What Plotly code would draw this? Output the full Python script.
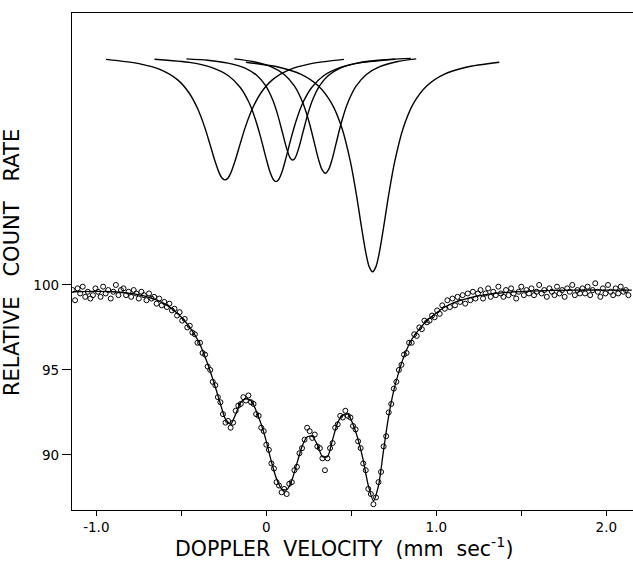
import plotly.graph_objects as go

# ---------------- data ----------------
# Measured spectrum: velocity grid (mm/s) and relative count rate
vel_start = -1.14
vel_step = 0.015
counts = [
    99.7, 99.1, 99.8, 99.5, 99.9, 99.3, 99.6, 99.2, 99.4, 99.8,
    99.6, 99.3, 99.9, 99.5, 99.7, 99.2, 99.6, 100.0, 99.4, 99.7,
    99.8, 99.4, 99.6, 99.3, 99.7, 99.5, 99.2, 99.6, 99.4, 99.1,
    99.5, 99.2, 99.3, 98.9, 99.2, 98.8, 99.0, 98.7, 98.9, 98.5,
    98.6, 98.2, 98.4, 97.9, 98.0, 97.5, 97.6, 97.2, 97.1, 96.6,
    96.6, 96.0, 95.9, 95.2, 95.0, 94.3, 94.1, 93.4, 93.1, 92.4,
    91.9, 92.0, 91.6, 91.9, 92.6, 92.9, 93.0, 93.4, 93.2, 93.5,
    93.1, 93.0, 92.4, 92.3, 91.6, 91.4, 90.6, 90.3, 89.5, 89.2,
    88.4, 88.2, 87.8, 88.0, 87.7, 88.3, 88.4, 89.1, 89.3, 90.1,
    90.4, 90.9, 91.6, 91.4, 91.0, 91.2, 90.5, 90.4, 89.8, 89.1,
    89.8, 90.4, 90.7, 91.6, 91.8, 92.3, 92.2, 92.6, 92.3, 92.2,
    91.7, 91.5, 90.8, 90.4, 89.5, 89.1, 88.0, 87.7, 87.1, 87.5,
    88.4, 89.0, 90.5, 91.1, 92.5, 93.0, 93.9, 94.3, 95.0, 95.3,
    95.9, 96.0, 96.6, 96.6, 97.1, 97.0, 97.5, 97.4, 97.9, 97.8,
    97.9, 98.2, 98.1, 98.5, 98.3, 98.8, 98.6, 99.1, 98.7, 99.2,
    98.8, 99.3, 99.0, 99.4, 98.9, 99.5, 99.1, 99.6, 99.2, 99.5,
    99.7, 99.2, 99.5, 99.8, 99.3, 99.6, 99.4, 99.9, 99.5, 99.3,
    99.7, 99.4, 99.8, 99.5, 99.2, 99.6, 99.9, 99.4, 99.7, 99.5,
    99.8, 99.4, 99.6, 100.0, 99.5, 99.7, 99.3, 99.8, 99.6, 99.4,
    99.9, 99.5, 99.7, 99.3, 99.8, 99.6, 100.0, 99.4, 99.7, 99.5,
    99.8, 99.5, 99.9, 99.4, 99.7, 100.1, 99.6, 99.3, 99.8, 99.5,
    100.0, 99.6, 99.4, 99.8, 99.5, 99.9, 99.6, 99.7, 99.4,
]
velocity = [round(vel_start + vel_step * i, 4) for i in range(len(counts))]

# Fitted envelope through the data
fit_x = [-1.14, -1.0, -0.9, -0.8, -0.7, -0.6, -0.55, -0.5, -0.45, -0.4,
         -0.35, -0.3, -0.27, -0.24, -0.21, -0.18, -0.15, -0.12, -0.09, -0.06,
         -0.03, 0.0, 0.03, 0.06, 0.09, 0.12, 0.15, 0.18, 0.21, 0.24,
         0.27, 0.30, 0.33, 0.36, 0.39, 0.42, 0.45, 0.48, 0.51, 0.54,
         0.57, 0.60, 0.63, 0.66, 0.69, 0.72, 0.75, 0.78, 0.81, 0.85,
         0.9, 0.95, 1.0, 1.05, 1.1, 1.2, 1.3, 1.4, 1.6, 1.8, 2.0, 2.15]
fit_y = [99.6, 99.62, 99.6, 99.5, 99.3, 98.9, 98.55, 98.1, 97.5, 96.7,
         95.5, 94.0, 93.0, 92.1, 91.8, 92.4, 93.1, 93.3, 93.2, 92.6,
         91.8, 90.8, 89.6, 88.6, 88.0, 87.95, 88.5, 89.5, 90.5, 91.05,
         91.1, 90.6, 89.9, 89.9, 90.9, 91.9, 92.35, 92.4, 91.8, 90.9,
         89.7, 88.2, 87.3, 88.2, 90.3, 92.3, 93.8, 94.9, 95.8, 96.7,
         97.4, 97.95, 98.35, 98.7, 98.95, 99.25, 99.45, 99.55, 99.65, 99.7, 99.7, 99.7]

# Component lines (drawn offset above the spectrum)
comp1_x = [-0.943, -0.743, -0.623, -0.523, -0.453, -0.403, -0.363, -0.333, -0.303, -0.278, -0.258, -0.243,
           -0.228, -0.208, -0.183, -0.153, -0.123, -0.083, -0.033, 0.037, 0.137, 0.257, 0.457]
comp1_y = [113.27, 113.01, 112.67, 112.08, 111.28, 110.35, 109.30, 108.33, 107.32, 106.61, 106.26, 106.18,
           106.26, 106.61, 107.32, 108.33, 109.30, 110.35, 111.28, 112.08, 112.67, 113.01, 113.27]
comp2_x = [-0.658, -0.443, -0.323, -0.223, -0.153, -0.103, -0.063, -0.033, -0.003, 0.022, 0.042, 0.057,
           0.072, 0.092, 0.117, 0.147, 0.177, 0.217, 0.267, 0.337, 0.437, 0.557, 0.757]
comp2_y = [113.28, 113.08, 112.80, 112.31, 111.62, 110.76, 109.71, 108.68, 107.52, 106.64, 106.19, 106.08,
           106.19, 106.64, 107.52, 108.68, 109.71, 110.76, 111.62, 112.31, 112.80, 113.08, 113.28]
comp3_x = [-0.47, -0.345, -0.225, -0.125, -0.055, -0.005, 0.035, 0.065, 0.095, 0.12, 0.14, 0.155,
           0.17, 0.19, 0.215, 0.245, 0.275, 0.315, 0.365, 0.435, 0.535, 0.655, 0.85]
comp3_y = [113.30, 113.22, 113.05, 112.76, 112.32, 111.74, 110.95, 110.08, 108.96, 108.02, 107.48, 107.35,
           107.48, 108.02, 108.96, 110.08, 110.95, 111.74, 112.32, 112.76, 113.05, 113.22, 113.33]
comp4_x = [-0.188, -0.073, 0.027, 0.107, 0.167, 0.217, 0.252, 0.282, 0.307, 0.327, 0.347,
           0.367, 0.387, 0.412, 0.442, 0.477, 0.527, 0.587, 0.667, 0.767, 0.882]
comp4_y = [113.30, 113.13, 112.84, 112.37, 111.68, 110.66, 109.57, 108.39, 107.39, 106.80, 106.57,
           106.80, 107.39, 108.39, 109.57, 110.66, 111.68, 112.37, 112.84, 113.13, 113.30]
comp5_x = [-0.12, 0.075, 0.205, 0.305, 0.385, 0.445, 0.495, 0.53, 0.56, 0.585, 0.605, 0.625,
           0.645, 0.665, 0.69, 0.72, 0.755, 0.805, 0.865, 0.945, 1.045, 1.175, 1.37]
comp5_y = [113.10, 112.81, 112.39, 111.72, 110.67, 109.22, 107.24, 105.31, 103.40, 101.92, 101.08, 100.78,
           101.08, 101.92, 103.40, 105.31, 107.24, 109.22, 110.67, 111.72, 112.39, 112.81, 113.10]

x_tick_vals = [-1.0, 0.0, 1.0, 2.0]
x_tick_text = ["-1.0", "0", "1.0", "2.0"]
x_minor_vals = [-0.5, 0.5, 1.5]
y_tick_vals = [90, 95, 100]
y_tick_text = ["90", "95", "100"]

x_title = "DOPPLER\u00a0 VELOCITY\u00a0 (mm\u00a0 sec<sup>-1</sup>)"
y_title = "RELATIVE\u00a0\u00a0 COUNT\u00a0\u00a0 RATE"

# ---------------- figure ----------------
FONT = "DejaVu Sans"
fig = go.Figure()

for cx, cy in [(comp1_x, comp1_y), (comp2_x, comp2_y), (comp3_x, comp3_y),
               (comp4_x, comp4_y), (comp5_x, comp5_y)]:
    fig.add_trace(go.Scatter(x=cx, y=cy, mode="lines",
                             line=dict(color="black", width=1.4, shape="spline", smoothing=0.8),
                             hoverinfo="skip", showlegend=False))

fig.add_trace(go.Scatter(x=fit_x, y=fit_y, mode="lines",
                         line=dict(color="black", width=1.3, shape="spline", smoothing=0.7),
                         showlegend=False))

fig.add_trace(go.Scatter(x=velocity, y=counts, mode="markers",
                         marker=dict(symbol="circle-open", size=5, color="black",
                                     line=dict(width=1, color="black")),
                         showlegend=False))

fig.update_layout(
    width=633, height=565,
    margin=dict(l=72, r=0, t=13, b=55),
    paper_bgcolor="white", plot_bgcolor="white",
    font=dict(family=FONT, color="black", size=13.5),
    xaxis=dict(range=[-1.143, 2.157], showgrid=False, zeroline=False,
               showline=True, linecolor="black", linewidth=1.3, mirror=True,
               ticks="outside", ticklen=5, tickwidth=1.2, tickcolor="black",
               tickvals=x_tick_vals, ticktext=x_tick_text,
               minor=dict(tickvals=x_minor_vals, ticks="outside", ticklen=5,
                          tickwidth=1.2, tickcolor="black", showgrid=False),
               tickfont=dict(family=FONT, size=13.5)),
    yaxis=dict(range=[86.76, 116.0], showgrid=False, zeroline=False,
               showline=True, linecolor="black", linewidth=1.3,
               ticks="outside", ticklen=9, tickwidth=1.2, tickcolor="black",
               tickvals=y_tick_vals, ticktext=y_tick_text,
               tickfont=dict(family=FONT, size=13.5)),
    annotations=[
        dict(text=x_title, xref="paper", yref="paper",
             x=(344 - 72) / 561, y=-(547 - 510) / 497, xanchor="center", yanchor="middle",
             showarrow=False, font=dict(family=FONT, size=20.5)),
        dict(text=y_title, xref="paper", yref="paper",
             x=-(72 - 12) / 561, y=(510 - 263) / 497, xanchor="center", yanchor="middle",
             textangle=-90, showarrow=False, font=dict(family=FONT, size=21)),
    ],
)

fig.write_html("out.html",
               config={"displayModeBar": False},
               post_script="document.body.style.margin='0';document.body.style.padding='0';")
